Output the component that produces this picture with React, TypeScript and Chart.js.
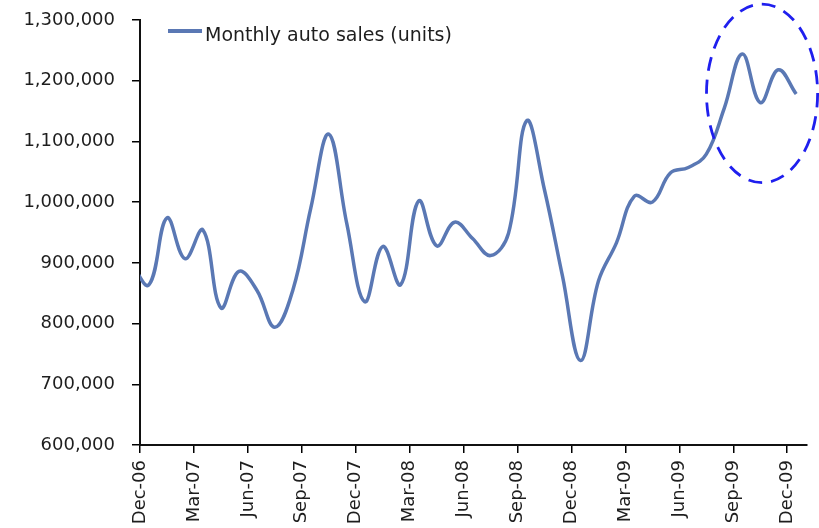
import React, { useEffect, useRef } from 'react';
import { Chart, registerables } from 'chart.js';

Chart.register(...registerables);

// ---- data ----
const seriesLabel = 'Monthly auto sales (units)';
// month offsets counted from Dec-06 (= 0); the first value (Nov-06) lies left of the axis and is clipped
const monthOffsets = [
  -1, 0, 1, 2, 3, 4, 5, 6, 7, 8, 9, 10, 11, 12, 13, 14, 15, 16, 17, 18,
  19, 20, 21, 22, 23, 24, 25, 26, 27, 28, 29, 30, 31, 32, 33, 34, 35, 36,
];
const salesUnits = [
  900000, 864000, 974000, 907000, 954000, 826000, 886000, 855000, 794000, 855000,
  990000, 1112000, 965000, 836000, 927000, 864000, 1002000, 928000, 967000, 940000,
  912000, 949000, 1134000, 1020000, 878000, 739000, 870000, 933000, 1010000, 1000000,
  1048000, 1057000, 1079000, 1155000, 1244000, 1164000, 1218000, 1178000,
];
const tickLabels = [
  'Dec-06', 'Mar-07', 'Jun-07', 'Sep-07', 'Dec-07', 'Mar-08', 'Jun-08',
  'Sep-08', 'Dec-08', 'Mar-09', 'Jun-09', 'Sep-09', 'Dec-09',
];
const tickStepMonths = 3;
const yMin = 600000;
const yMax = 1300000;
const yStep = 100000;
// dashed highlight ellipse, in data units (months / units)
const highlightCenterMonth = 34.6;
const highlightCenterValue = 1179000;
const highlightRadiusMonths = 3.09;
const highlightRadiusValue = 147000;

const FONT = '"DejaVu Sans", "Liberation Sans", Arial, sans-serif';
const LINE_COLOR = '#5A78B4';
const TEXT_COLOR = '#1e1e1e';

const insideLegend = {
  id: 'insideLegend',
  afterDraw(chart: any) {
    const ds = chart.data.datasets[0];
    const { ctx, chartArea } = chart;
    const x0 = chartArea.left + 28;
    const y0 = chartArea.top + 11;
    ctx.save();
    ctx.strokeStyle = ds.borderColor;
    ctx.lineWidth = 4;
    ctx.lineCap = 'butt';
    ctx.beginPath();
    ctx.moveTo(x0, y0);
    ctx.lineTo(x0 + 34, y0);
    ctx.stroke();
    ctx.font = `19px ${FONT}`;
    ctx.fillStyle = TEXT_COLOR;
    ctx.textBaseline = 'alphabetic';
    ctx.textAlign = 'left';
    ctx.fillText(ds.label, x0 + 37, y0 + 10);
    ctx.restore();
  },
};

const highlightEllipse = {
  id: 'highlightEllipse',
  afterDraw(chart: any) {
    const xs = chart.scales.x;
    const ys = chart.scales.y;
    const cx = xs.getPixelForValue(highlightCenterMonth);
    const cy = ys.getPixelForValue(highlightCenterValue);
    const rx = Math.abs(xs.getPixelForValue(highlightCenterMonth + highlightRadiusMonths) - cx);
    const ry = Math.abs(ys.getPixelForValue(highlightCenterValue + highlightRadiusValue) - cy);
    const { ctx } = chart;
    ctx.save();
    ctx.strokeStyle = '#1F1FEE';
    ctx.lineWidth = 2.8;
    ctx.setLineDash([14, 9]);
    ctx.beginPath();
    ctx.ellipse(cx, cy, rx, ry, 0, 0, Math.PI * 2);
    ctx.stroke();
    ctx.restore();
  },
};

export default function App() {
  const canvasRef = useRef<HTMLCanvasElement | null>(null);

  useEffect(() => {
    if (!canvasRef.current) return;
    const points = monthOffsets.map((m, i) => ({ x: m + 0.5, y: salesUnits[i] }));
    const chart = new Chart(canvasRef.current, {
      type: 'line',
      data: {
        datasets: [
          {
            label: seriesLabel,
            data: points,
            borderColor: LINE_COLOR,
            backgroundColor: LINE_COLOR,
            borderWidth: 3.5,
            pointRadius: 0,
            tension: 0.4,
            fill: false,
            clip: 0,
          },
        ],
      },
      options: {
        animation: false,
        responsive: true,
        maintainAspectRatio: false,
        layout: { padding: { left: 0, top: 20, right: 12, bottom: 0 } },
        plugins: {
          legend: { display: false },
          tooltip: { enabled: false },
        },
        scales: {
          x: {
            type: 'linear',
            min: 0,
            max: 37.1,
            offset: false,
            afterBuildTicks: (scale: any) => {
              scale.ticks = tickLabels.map((_, i) => ({ value: i * tickStepMonths }));
            },
            afterFit: (scale: any) => {
              scale.height = 83;
              scale.paddingLeft = 0;
              scale.paddingRight = 0;
            },
            ticks: {
              autoSkip: false,
              minRotation: 90,
              maxRotation: 90,
              padding: 7,
              color: TEXT_COLOR,
              font: { family: FONT, size: 18 },
              callback: (_v: any, index: number) => tickLabels[index],
            },
            grid: {
              display: true,
              drawOnChartArea: false,
              drawTicks: true,
              tickLength: 8,
              color: '#000',
              lineWidth: 1.5,
            },
            border: { display: true, color: '#111', width: 2 },
          },
          y: {
            type: 'linear',
            min: yMin,
            max: yMax,
            afterFit: (scale: any) => {
              scale.width = 140;
              scale.paddingTop = 0;
              scale.paddingBottom = 0;
            },
            ticks: {
              stepSize: yStep,
              padding: 17,
              color: TEXT_COLOR,
              font: { family: FONT, size: 18 },
              callback: (v: any) => Number(v).toLocaleString('en-US'),
            },
            grid: {
              display: true,
              drawOnChartArea: false,
              drawTicks: true,
              tickLength: 8,
              color: '#000',
              lineWidth: 1.5,
            },
            border: { display: true, color: '#111', width: 2 },
          },
        },
      },
      plugins: [insideLegend, highlightEllipse],
    });
    return () => chart.destroy();
  }, []);

  return (
    <div style={{ position: 'fixed', left: 0, top: 0, width: 819, height: 528, background: '#fff' }}>
      <canvas ref={canvasRef} />
    </div>
  );
}
